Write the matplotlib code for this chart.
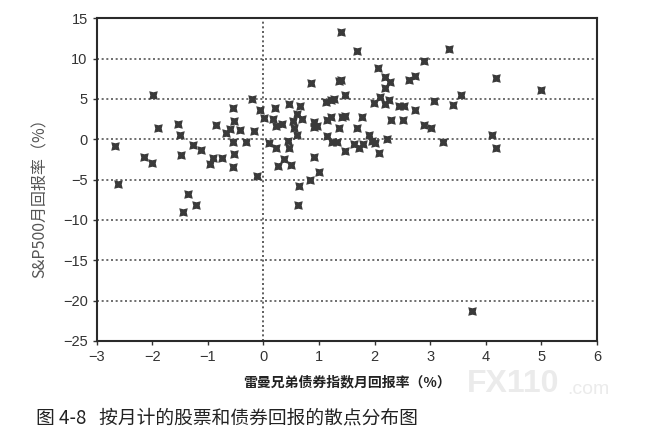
import numpy as np
import matplotlib
matplotlib.use("Agg")
import matplotlib.pyplot as plt
from matplotlib.path import Path

plt.rcParams['font.family'] = ['Noto Sans CJK SC', 'DejaVu Sans']

# monthly returns (%)
bond_ret = [-1.98, -1.89, -1.53, -1.51, -2.67, -2.61, -2.15, -2.01, -1.48, -1.36,
            -1.22, -1.44, -1.26, -1.13, -0.97, -0.90, -0.74, -0.85, -0.67, -0.60,
            -0.55, -0.53, -0.42, -0.55, -0.53, -0.55, -0.31, -0.21, -0.17, -0.11,
            -0.07, 0.01, 0.10, 0.17, 0.21, 0.22, 0.23, 0.34, 0.37, 0.26,
            0.46, 0.45, 0.46, 0.50, 0.54, 0.55, 0.60, 0.65, 0.61, 0.69,
            0.64, 0.62, 0.84, 0.85, 0.90, 0.90, 0.97, 0.90, 0.99, 1.12,
            1.15, 1.15, 1.21, 1.21, 1.26, 1.35, 1.39, 1.35, 1.24, 1.33,
            1.47, 1.47, 1.47, 1.39,
            1.69, 3.34, 2.89, 2.06, 2.18, 2.27, 2.18, 2.62, 2.73, 4.18,
            4.99, 1.99, 2.09, 2.18, 2.26, 2.44, 2.53, 2.72, 3.07, 3.41,
            3.55, 1.42, 1.77, 1.69, 2.29, 2.51, 2.89, 3.02, 1.62, 1.71,
            1.79, 1.90, 1.95, 2.01, 2.08, 2.23, 3.23, 4.12, 4.18, 3.75]
stock_ret = [5.44, 1.44, 1.94, 0.49, -0.83, -5.6, -2.14, -2.97, -1.94, -6.75,
             -8.15, -9.0, -0.74, -1.36, -3.09, -2.27, -2.27, 1.77, 0.82, 1.24,
             3.92, 2.27, 1.15, -0.29, -1.86, -3.50, -0.33, 5.03, 1.03, -4.54,
             3.58, 2.68, -0.41, 2.47, 3.92, 1.65, -1.03, 1.94, -2.47, -3.30,
             4.33, -0.21, -1.03, -3.18, 2.27, 1.44, 3.09, 4.12, 0.53, 2.47,
             -5.75, -8.15, -5.0, 7.0, 2.19, 1.52, 1.65, -2.14, -4.04, 4.66,
             2.35, 0.41, 2.76, 4.83, 4.95, 7.2, 7.29, 1.36, -0.33, -0.33,
             5.44, 2.88, -1.44, 13.32,
             10.92, 11.22, 9.69, 8.86, 7.70, 7.08, 6.3, 7.29, 7.83, 7.62,
             6.09, 4.53, 5.24, 4.33, 4.82, 4.12, 4.12, 3.63, 4.74, 4.25,
             5.48, 2.76, 2.8, 1.44, 2.39, 2.39, 1.77, 1.44, -0.62, -1.03,
             -0.62, 0.53, -0.21, -0.41, -1.65, 0.0, -0.33, 0.49, -1.03, -21.3]

x_ticks = [-3, -2, -1, 0, 1, 2, 3, 4, 5, 6]
y_ticks = [15, 10, 5, 0, -5, -10, -15, -20, -25]

# square with pinched sides, like the printed marker
k = 0.75
mark = Path([(-1, -1), (0, -k), (1, -1), (k, 0), (1, 1), (0, k), (-1, 1), (-k, 0), (-1, -1)],
            [Path.MOVETO] + [Path.LINETO] * 7 + [Path.CLOSEPOLY])

fig = plt.figure(figsize=(6.47, 4.33), dpi=100)
ax = fig.add_axes([0.1495, 0.2125, 0.7732, 0.7455])

for y in y_ticks[1:-1]:
    ax.axhline(y, color='#555555', ls=(0, (1.2, 1.6)), lw=1.2, zorder=1)
ax.axvline(0, color='#444444', ls=(0, (1.2, 1.6)), lw=1.2, zorder=1)

ax.scatter(bond_ret, stock_ret, marker=mark, s=38, color='#3a3a3a', zorder=3, linewidths=0)

ax.set_xlim(-3, 6)
ax.set_ylim(-25, 15)
ax.set_xticks(x_ticks)
ax.set_yticks(y_ticks)
ax.tick_params(labelsize=10.5, colors='#333333', length=3, width=1)
for lab in ax.get_xticklabels() + ax.get_yticklabels():
    lab.set_family(['Liberation Sans', 'DejaVu Sans'])
for sp in ax.spines.values():
    sp.set_color('#2a2a2a')
    sp.set_linewidth(1.5)

ax.set_xlabel('雷曼兄弟债券指数月回报率（%）', fontsize=10, color='#222222',
              fontweight='bold')
ax.xaxis.set_label_coords(0.5, -0.105)
ax.set_ylabel('S&P500月回报率（%）', fontsize=11.5, color='#555555')
ax.yaxis.set_label_coords(-0.095, 0.455)

fig.text(0.722, 0.113, 'FX110', fontsize=23, color='#ebebeb', fontweight='bold',
         family=['Liberation Sans', 'DejaVu Sans'], va='center', zorder=0)
fig.text(0.877, 0.100, '.com', fontsize=14, color='#ebebeb', va='center',
         family=['Liberation Sans', 'DejaVu Sans'], zorder=0)

fig.text(0.055, 0.035, '图 4-8   按月计的股票和债券回报的散点分布图', fontsize=13.5,
         color='#222222', va='center')

fig.savefig('out.png', dpi=100)
